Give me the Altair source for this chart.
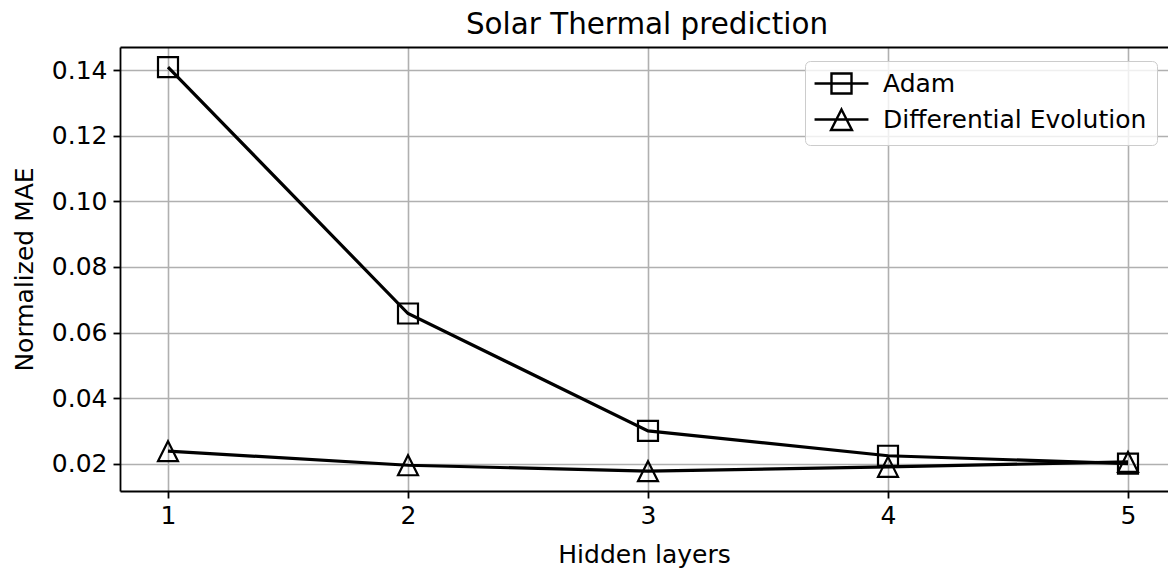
import altair as alt
import pandas as pd

# ---- data ----
hidden_layers = [1, 2, 3, 4, 5]
adam_mae = [0.1410, 0.0658, 0.0300, 0.0224, 0.0200]
de_mae = [0.0238, 0.0195, 0.0177, 0.0190, 0.0205]
series_names = ["Adam", "Differential Evolution"]
y_ticks = [0.02, 0.04, 0.06, 0.08, 0.10, 0.12, 0.14]
x_ticks = [1, 2, 3, 4, 5]

rows = []
for name, vals in zip(series_names, [adam_mae, de_mae]):
    for h, v in zip(hidden_layers, vals):
        rows.append({"layers": h, "mae": v, "series": name})
df = pd.DataFrame(rows)

FONT = "DejaVu Sans"
FS = 25
W, H = 1048, 444

marker_paths = ["M-1,-1H1V1H-1Z", "M0,-1L1,1L-1,1Z"]
legend_paths = ["M-2.45,0H2.45M-0.91,-0.91H0.91V0.91H-0.91Z",
                "M-2.45,0H2.45M0,-0.91L0.95,0.95L-0.95,0.95Z"]

xscale = alt.Scale(domain=[0.8, 0.8 + W / 240.0], nice=False, zero=False)
yscale = alt.Scale(domain=[0.01164, 0.14711], nice=False, zero=False)

x_axis = alt.Axis(values=x_ticks, format="d", title="Hidden layers", grid=True,
                  orient="bottom", labelPadding=5, titlePadding=14)
y_axis = alt.Axis(values=y_ticks, format=".2f", title="Normalized MAE", grid=True,
                  labelPadding=6, titlePadding=14)

lines = alt.Chart(df).mark_line(color="black", strokeWidth=3.2).encode(
    x=alt.X("layers:Q", scale=xscale, axis=x_axis),
    y=alt.Y("mae:Q", scale=yscale, axis=y_axis),
    detail="series:N",
)

points = alt.Chart(df).mark_point(filled=False, color="black", strokeWidth=2.2,
                                  size=400, opacity=1).encode(
    x=alt.X("layers:Q", scale=xscale,
            axis=alt.Axis(orient="top", labels=False, ticks=False, grid=False,
                          title=None, domain=True, minExtent=0, maxExtent=0)),
    y=alt.Y("mae:Q", scale=yscale),
    shape=alt.Shape("series:N", scale=alt.Scale(domain=series_names, range=marker_paths),
                    legend=None),
)

legend_layer = alt.Chart(df).mark_point(filled=False, color="black", strokeWidth=2.4,
                                        size=484, opacity=1).encode(
    shape=alt.Shape("series:N",
                    scale=alt.Scale(domain=series_names, range=legend_paths),
                    legend=alt.Legend(title=None, orient="none", legendX=685, legendY=14,
                                      symbolSize=484, symbolStrokeWidth=2.4,
                                      symbolStrokeColor="black",
                                      symbolFillColor="transparent",
                                      symbolOpacity=1,
                                      symbolOffset=14,
                                      labelFontSize=FS, labelFont=FONT, labelColor="black",
                                      labelOffset=29, padding=10, rowPadding=5,
                                      strokeColor="#cccccc",
                                      fillColor="rgba(255,255,255,0.8)",
                                      cornerRadius=5, labelLimit=400)),
).transform_filter("false")

chart = alt.layer(lines, points, legend_layer).resolve_scale(
    shape="independent"
).resolve_axis(x="independent").properties(
    width=W, height=H,
    title=alt.TitleParams("Solar Thermal prediction", font=FONT, fontSize=29.4,
                          fontWeight="normal", color="black", anchor="middle",
                          frame="group", baseline="alphabetic", offset=14, dx=3, dy=30),
    autosize=alt.AutoSizeParams(type="none"),
    padding={"left": 120, "top": 47, "right": 0, "bottom": 83},
).configure_view(stroke=None).configure_axis(
    labelFont=FONT, labelFontSize=FS, labelColor="black",
    titleFont=FONT, titleFontSize=FS, titleFontWeight="normal", titleColor="black",
    domainColor="black", domainWidth=1.8, tickColor="black", tickWidth=1.8, tickSize=7,
    gridColor="#b0b0b0", gridWidth=1.6,
)

chart.save("out.html", embed_options={"renderer": "svg", "actions": False})
